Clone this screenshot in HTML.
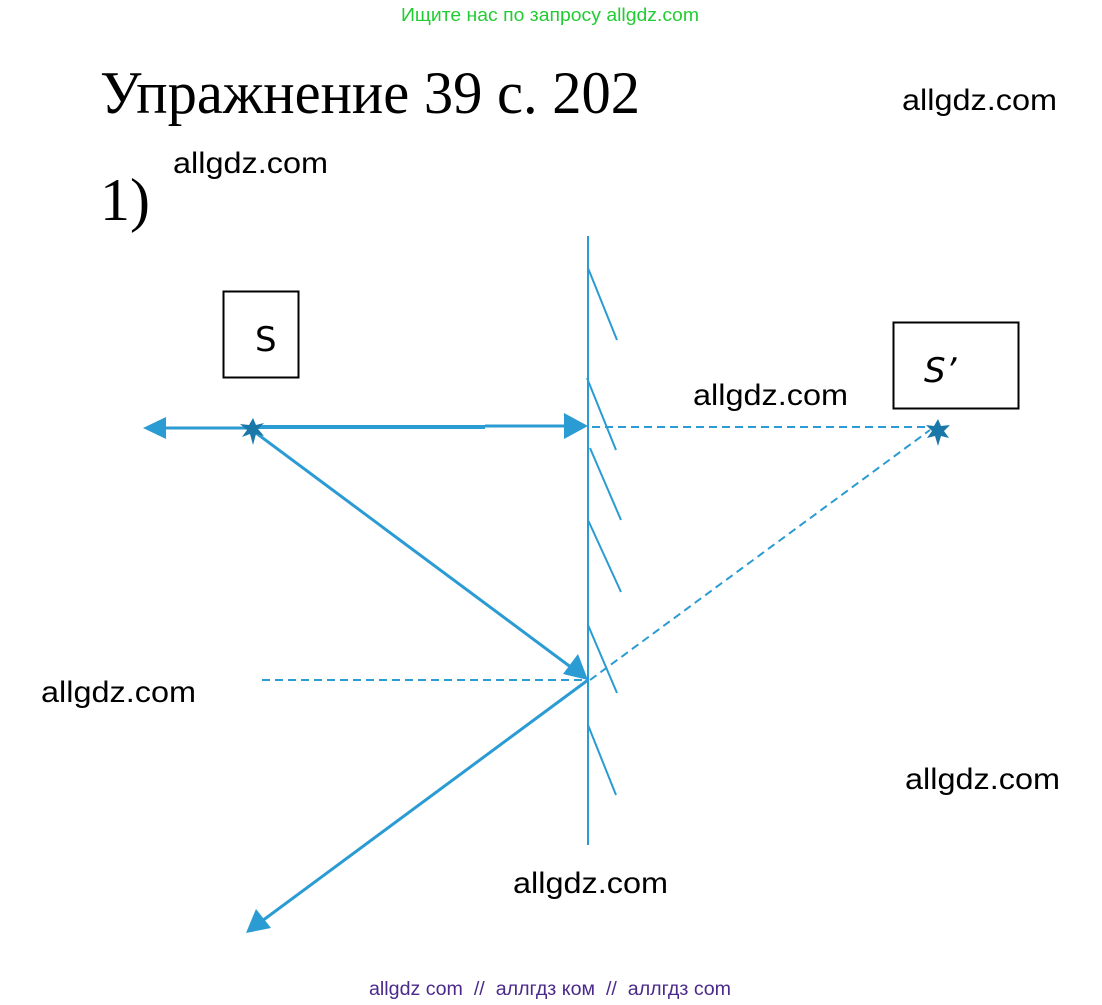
<!DOCTYPE html>
<html><head><meta charset="utf-8"><style>html,body{margin:0;padding:0;background:#fff;}svg{display:block}</style></head>
<body>
<svg width="1102" height="1005" xmlns="http://www.w3.org/2000/svg">
<g font-family="Liberation Sans, sans-serif">
<text x="401" y="21" font-size="18" fill="#22cc33" textLength="298" lengthAdjust="spacingAndGlyphs">Ищите нас по запросу allgdz.com</text>
<text x="100" y="113" font-family="Liberation Serif, serif" font-size="60" textLength="540" lengthAdjust="spacingAndGlyphs">Упражнение 39 с. 202</text>
<text x="100" y="220" font-family="Liberation Serif, serif" font-size="60">1)</text>
<g font-size="30">
<text x="902" y="110" textLength="155" lengthAdjust="spacingAndGlyphs">allgdz.com</text>
<text x="173" y="173" textLength="155" lengthAdjust="spacingAndGlyphs">allgdz.com</text>
<text x="693" y="405" textLength="155" lengthAdjust="spacingAndGlyphs">allgdz.com</text>
<text x="41" y="702" textLength="155" lengthAdjust="spacingAndGlyphs">allgdz.com</text>
<text x="905" y="789" textLength="155" lengthAdjust="spacingAndGlyphs">allgdz.com</text>
<text x="513" y="893" textLength="155" lengthAdjust="spacingAndGlyphs">allgdz.com</text>
</g>
<text x="369" y="995" font-size="19" fill="#4b2a8a" textLength="362" lengthAdjust="spacingAndGlyphs" xml:space="preserve">allgdz com  //  аллгдз ком  //  аллгдз com</text>
</g>
<rect x="223.5" y="291.5" width="75" height="86" fill="none" stroke="#000" stroke-width="2"/>
<text x="255" y="351" font-family="DejaVu Sans, sans-serif" font-size="34">S</text>
<rect x="893.5" y="322.5" width="125" height="86" fill="none" stroke="#000" stroke-width="2"/>
<text x="924" y="382" font-family="DejaVu Sans, sans-serif" font-size="34" font-style="italic">S’</text>
<g stroke="#2b9bd3" fill="none">
<line x1="588" y1="236" x2="588" y2="845" stroke-width="2"/>
<g stroke-width="2">
<line x1="588" y1="268" x2="617" y2="340"/>
<line x1="587" y1="378" x2="616" y2="450"/>
<line x1="590" y1="448" x2="621" y2="520"/>
<line x1="588" y1="520" x2="621" y2="592"/>
<line x1="588" y1="625" x2="617" y2="693"/>
<line x1="588" y1="725" x2="616" y2="795"/>
</g>
<line x1="160" y1="428" x2="250" y2="428" stroke-width="3"/>
<line x1="250" y1="427" x2="485" y2="427" stroke-width="4"/>
<line x1="485" y1="426" x2="565" y2="426" stroke-width="3"/>
<line x1="252" y1="430" x2="572" y2="668" stroke-width="3"/>
<line x1="588" y1="680" x2="262" y2="921" stroke-width="3"/>
<g stroke-width="2" stroke-dasharray="8,5">
<line x1="592" y1="427" x2="935" y2="427"/>
<line x1="262" y1="680" x2="586" y2="680"/>
<line x1="590" y1="680" x2="930" y2="430"/>
</g>
</g>
<g fill="#2b9bd3">
<polygon points="143,428 166,417 166,439"/>
<polygon points="588,426 564,413 564,439"/>
<polygon points="588,680 563,674 578,654"/>
<polygon points="246,933 256,909 271,928"/>
</g>
<g fill="#1a78a8">
<polygon points="253,418 256,425 264,423 258,429 264,436 256,434 253,445 250,434 242,437 247,430 240,424 249,425"/>
<polygon points="938,419 941,426 950,425 944,431 949,438 941,436 938,446 935,436 927,438 932,431 926,425 934,426"/>
</g>
</svg>
</body></html>
